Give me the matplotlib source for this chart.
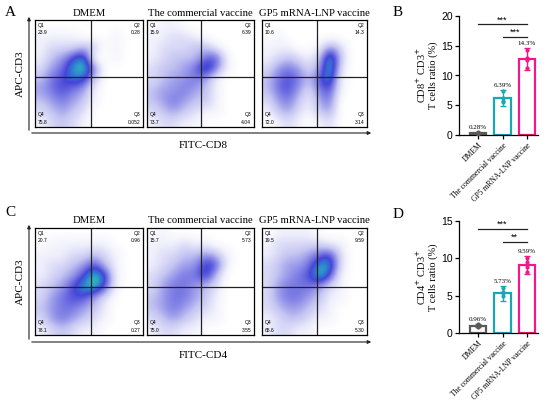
import matplotlib
matplotlib.use("Agg")
import matplotlib.pyplot as plt
import numpy as np
from matplotlib.colors import LinearSegmentedColormap

# flow panels: titles, quadrant percentages (Q1, Q2, Q3, Q4)
groups = ["DMEM", "The commercial vaccine", "GP5 mRNA-LNP vaccine"]
quad_cd8 = [["23.9", "0.28", "0.052", "75.8"],
            ["15.9", "6.39", "4.04", "73.7"],
            ["10.6", "14.3", "3.14", "72.0"]]
quad_cd4 = [["20.7", "0.96", "0.27", "78.1"],
            ["15.7", "5.73", "3.55", "75.0"],
            ["19.5", "9.59", "5.30", "65.6"]]

# rough event density, 10x10 grid, top row first
dens_cd8 = [
    ["0000000000", "1111000100", "1222330100", "1346800100", "2458950000",
     "3567730000", "4565410000", "3454310000", "2343200000", "1232100000"],
    ["0110000000", "1122100000", "1222331000", "1233356100", "2334585100",
     "2344541000", "3445431000", "3454331000", "2343211000", "1221100000"],
    ["0000000000", "0100000000", "1110014200", "1232139300", "2454249200",
     "3565368100", "3564256100", "2453145000", "1342134000", "0121012000"],
]
dens_cd4 = [
    ["0000000000", "0111111000", "1112232100", "1223463100", "1234697100",
     "2346896100", "2456642000", "3455431000", "2454321000", "1232110000"],
    ["0100000000", "1112110000", "1223343100", "1234476100", "2345573000",
     "2455432000", "3455431000", "3454321000", "2343211000", "1221100000"],
    ["0111100000", "1222221100", "1233456200", "2344588200", "2345696100",
     "2455542100", "2455431100", "2344321000", "1233211000", "1221100000"],
]
gate_x = [5.2, 5.0, 5.2]

# bar charts
bar_labels = ["DMEM", "The commercial vaccine", "GP5 mRNA-LNP vaccine"]
cd8_mean = [0.35, 6.2, 12.8]
cd8_err = [0.15, 1.4, 1.8]
cd8_pts = [[0.2, 0.3, 0.45, 0.35], [7.4, 6.3, 5.5, 5.7], [14.3, 12.9, 11.2, 12.6]]
cd8_txt = ["0.28%", "6.39%", "14.3%"]
cd4_mean = [1.0, 5.3, 9.1]
cd4_err = [0.25, 1.0, 1.2]
cd4_pts = [[0.8, 1.1, 1.2, 0.9], [6.0, 5.4, 5.0, 5.5], [10.0, 9.5, 8.2, 8.8]]
cd4_txt = ["0.96%", "5.73%", "9.59%"]

colors = ["#5a5a5a", "#17a9b3", "#f2188a"]
cmap = LinearSegmentedColormap.from_list(
    "flow", [(0, "white"), (0.12, "#f1f1fc"), (0.35, "#c4c4f2"),
             (0.55, "#8282e6"), (0.72, "#4646d8"), (0.84, "#2f78d4"), (1, "#30c8b8")])
cmap.set_under("white")

W, H = 550, 408
fig = plt.figure(figsize=(5.5, 4.08), dpi=100)


def box(x0, y0, x1, y1):
    return [x0 / W, 1 - y1 / H, (x1 - x0) / W, (y1 - y0) / H]


serif = "Liberation Serif"
sans = "Liberation Sans"


def flow_row(top, bot, dens, quads, gate_y, xlabel, xlab_y, ax_y, title_y):
    xs = [(35, 143), (147, 254), (262, 367)]
    for i in range(3):
        ax = fig.add_axes(box(xs[i][0], top, xs[i][1], bot))
        grid = np.array([[int(c) for c in row] for row in dens[i]], float)
        ax.imshow(grid, extent=[0, 10, 0, 10], cmap=cmap, vmin=0.05, vmax=8.5,
                  interpolation="bicubic", aspect="auto")
        ax.axvline(gate_x[i], color="#222222", lw=0.9)
        ax.axhline(gate_y, color="#222222", lw=0.9)
        ax.set_xlim(0, 10)
        ax.set_ylim(0, 10)
        ax.set_xticks([])
        ax.set_yticks([])
        for s in ax.spines.values():
            s.set_linewidth(0.9)
        q = quads[i]
        fs = 3.6
        ax.text(0.25, 9.75, "Q1\n" + q[0], fontsize=fs, family=sans, va="top", ha="left", linespacing=1.6)
        ax.text(9.75, 9.75, "Q2\n" + q[1], fontsize=fs, family=sans, va="top", ha="right", linespacing=1.6, multialignment="right")
        ax.text(9.75, 0.2, "Q3\n" + q[2], fontsize=fs, family=sans, va="bottom", ha="right", linespacing=1.6, multialignment="right")
        ax.text(0.25, 0.2, "Q4\n" + q[3], fontsize=fs, family=sans, va="bottom", ha="left", linespacing=1.6)
        fig.text(((xs[i][0] + xs[i][1]) / 2) / W, 1 - title_y / H, groups[i],
                 fontsize=7.7, family=serif, ha="center", va="center")
    # axis arrows
    fig.add_artist(matplotlib.patches.FancyArrowPatch(
        (29 / W, 1 - ax_y / H), (29 / W, 1 - (top - 6) / H), transform=fig.transFigure,
        arrowstyle="-|>", mutation_scale=5, lw=0.8, color="#222222"))
    fig.add_artist(matplotlib.patches.FancyArrowPatch(
        (29 / W, 1 - ax_y / H), (374 / W, 1 - ax_y / H), transform=fig.transFigure,
        arrowstyle="-|>", mutation_scale=5, lw=0.8, color="#222222"))
    fig.text(203 / W, 1 - xlab_y / H, xlabel, fontsize=8, family=serif, ha="center", va="center")
    fig.text(20 / W, 1 - ((top + bot) / 2) / H, "APC-CD3", fontsize=8, family=serif,
             ha="center", va="center", rotation=90)


flow_row(20, 127, dens_cd8, quad_cd8, 4.7, "FITC-CD8", 146, 133, 13)
flow_row(228, 335, dens_cd4, quad_cd4, 4.5, "FITC-CD4", 356, 342, 221)


def bar_panel(top, bot, ymax, step, mean, err, pts, txt, ylab, sig, txt_off):
    ax = fig.add_axes(box(459, top, 538, bot))
    x = np.arange(3)
    for i in range(3):
        ax.bar(x[i], mean[i], width=0.66, facecolor="white", edgecolor=colors[i], lw=1.6, zorder=2)
        ax.errorbar(x[i], mean[i], yerr=err[i], color=colors[i], capsize=2.5, lw=1.0,
                    capthick=1.0, zorder=3)
        ax.plot([x[i]] * len(pts[i]), pts[i], "o", ms=2, color=colors[i], zorder=4)
        ax.text(x[i], mean[i] + err[i] + txt_off, txt[i], fontsize=5, family=serif,
                ha="center", va="bottom")
    for (a, b, yy, s) in sig:
        ax.plot([a, b], [yy, yy], color="#222222", lw=0.9, clip_on=False)
        ax.text((a + b) / 2, yy, s, fontsize=6.5, ha="center", va="bottom", family=sans)
    ax.set_xlim(-0.78, 2.45)
    ax.set_ylim(0, ymax)
    ax.set_yticks(np.arange(0, ymax + 0.1, step))
    ax.set_xticks(x)
    ax.set_xticklabels(bar_labels, rotation=45, ha="right", rotation_mode="anchor",
                       fontsize=5.5, family=serif)
    for lab in ax.get_yticklabels():
        lab.set_family(sans)
        lab.set_fontsize(7.5)
    ax.tick_params(length=3, width=0.9, pad=1.5)
    ax.spines["top"].set_visible(False)
    ax.spines["right"].set_visible(False)
    ax.spines["left"].set_linewidth(0.9)
    ax.spines["bottom"].set_linewidth(0.9)
    ax.set_ylabel(ylab, fontsize=7.5, family=serif, labelpad=2, linespacing=1.1)


bar_panel(16, 135, 20, 5, cd8_mean, cd8_err, cd8_pts, cd8_txt,
          "CD8$^{+}$ CD3$^{+}$\nT cells ratio (%)",
          [(0, 2, 18.6, "***"), (1, 2, 16.5, "***")], 0.3)
bar_panel(221, 333, 15, 5, cd4_mean, cd4_err, cd4_pts, cd4_txt,
          "CD4$^{+}$ CD3$^{+}$\nT cells ratio (%)",
          [(0, 2, 13.9, "***"), (1, 2, 12.2, "**")], 0.25)

for lab, (px, py) in zip("ABCD", [(10, 12), (398, 12), (10, 213), (398, 215)]):
    fig.text(px / W, 1 - py / H, lab, fontsize=11, family=serif, ha="center", va="center")

fig.savefig("out.png", dpi=100, facecolor="white")
